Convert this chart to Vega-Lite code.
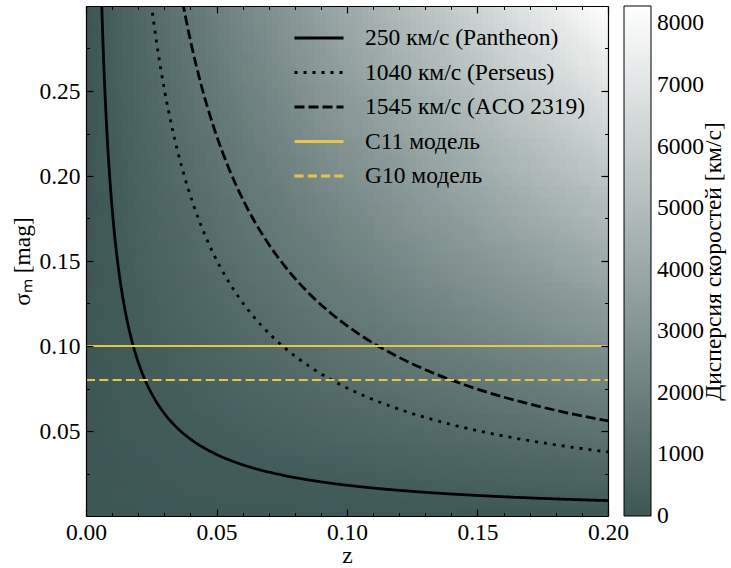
{
  "$schema": "https://vega.github.io/schema/vega-lite/v6.json",
  "width": 522,
  "height": 510,
  "autosize": {"type": "none"},
  "padding": {"left": 86, "top": 6, "right": 123, "bottom": 52},
  "background": "#ffffff",
  "config": {
    "font": "Times New Roman, Liberation Serif, serif",
    "view": {"stroke": null},
    "text": {"font": "Times New Roman, Liberation Serif, serif"},
    "style": {"guide-label": {"font": "Times New Roman, Liberation Serif, serif"}, "guide-title": {"font": "Times New Roman, Liberation Serif, serif"}},
    "axis": {"grid": false, "domain": false, "labelFlush": false, "labelFont": "Times New Roman, Liberation Serif, serif", "labelFontSize": 23.5, "labelColor": "#000000", "titleFont": "Times New Roman, Liberation Serif, serif", "titleFontSize": 23.5, "titleColor": "#000000", "titleFontWeight": "normal", "tickColor": "#000000", "domainColor": "#000000"},
    "legend": {"labelFont": "Times New Roman, Liberation Serif, serif", "titleFont": "Times New Roman, Liberation Serif, serif"}
  },
  "resolve": {"scale": {"color": "independent", "opacity": "independent", "strokeDash": "independent"}, "axis": {"x": "independent", "y": "independent"}},
  "layer": [
    {
      "data": {"values": [{"z0": 0, "z1": 0.2, "s0": 0, "s1": 0.3, "v": 0}]},
      "mark": {"type": "rect", "strokeWidth": 0},
      "encoding": {
        "x": {"field": "z0", "type": "quantitative", "scale": {"domain": [0, 0.2], "nice": false, "zero": false},
          "axis": {"orient": "bottom", "values": [0, 0.05, 0.1, 0.15, 0.2], "format": ".2f", "labelFont": "Times New Roman, Liberation Serif, serif", "labelFontSize": 23.5, "labelFlush": false, "tickSize": -7, "tickWidth": 1.2, "labelPadding": 11, "domain": true, "domainWidth": 1.2, "title": "z", "titleFont": "Times New Roman, Liberation Serif, serif", "titlePadding": 0, "zindex": 1}},
        "x2": {"field": "z1"},
        "y": {"field": "s0", "type": "quantitative", "scale": {"domain": [0, 0.3], "nice": false, "zero": false},
          "axis": {"orient": "left", "values": [0.05, 0.1, 0.15, 0.2, 0.25], "format": ".2f", "labelFont": "Times New Roman, Liberation Serif, serif", "labelFontSize": 23.5, "labelFlush": false, "tickSize": -7, "tickWidth": 1.2, "labelPadding": 13, "domain": true, "domainWidth": 1.2, "title": "σₘ [mag]", "titleFont": "Times New Roman, Liberation Serif, serif", "titlePadding": 4, "zindex": 1}},
        "y2": {"field": "s1"},
        "color": {"field": "v", "type": "quantitative",
          "scale": {"domain": [-0.5, 8283.6], "range": ["#3d5755", "#ffffff"], "interpolate": "rgb"},
          "legend": {"orient": "none", "legendX": 538, "legendY": 0, "direction": "vertical", "gradientLength": 510, "gradientThickness": 27, "gradientStrokeColor": "#000000", "gradientStrokeWidth": 1, "values": [0, 1000, 2000, 3000, 4000, 5000, 6000, 7000, 8000], "format": "d", "title": null, "labelOffset": 6, "labelFont": "Times New Roman, Liberation Serif, serif", "labelFontSize": 23.5, "labelColor": "#000000", "padding": 0, "labelOverlap": false}}
      }
    },
    {
      "data": {"values": [
        {"z0":0,"z1":0.0022989},{"z0":0.0022989,"z1":0.0045977},{"z0":0.0045977,"z1":0.0068966},{"z0":0.0068966,"z1":0.0091954},{"z0":0.0091954,"z1":0.0114943},{"z0":0.0114943,"z1":0.0137931},{"z0":0.0137931,"z1":0.016092},{"z0":0.016092,"z1":0.0183908},{"z0":0.0183908,"z1":0.0206897},{"z0":0.0206897,"z1":0.0229885},
        {"z0":0.0229885,"z1":0.0252874},{"z0":0.0252874,"z1":0.0275862},{"z0":0.0275862,"z1":0.0298851},{"z0":0.0298851,"z1":0.0321839},{"z0":0.0321839,"z1":0.0344828},{"z0":0.0344828,"z1":0.0367816},{"z0":0.0367816,"z1":0.0390805},{"z0":0.0390805,"z1":0.0413793},{"z0":0.0413793,"z1":0.0436782},{"z0":0.0436782,"z1":0.045977},
        {"z0":0.045977,"z1":0.0482759},{"z0":0.0482759,"z1":0.0505747},{"z0":0.0505747,"z1":0.0528736},{"z0":0.0528736,"z1":0.0551724},{"z0":0.0551724,"z1":0.0574713},{"z0":0.0574713,"z1":0.0597701},{"z0":0.0597701,"z1":0.062069},{"z0":0.062069,"z1":0.0643678},{"z0":0.0643678,"z1":0.0666667},{"z0":0.0666667,"z1":0.0689655},
        {"z0":0.0689655,"z1":0.0712644},{"z0":0.0712644,"z1":0.0735632},{"z0":0.0735632,"z1":0.0758621},{"z0":0.0758621,"z1":0.0781609},{"z0":0.0781609,"z1":0.0804598},{"z0":0.0804598,"z1":0.0827586},{"z0":0.0827586,"z1":0.0850575},{"z0":0.0850575,"z1":0.0873563},{"z0":0.0873563,"z1":0.0896552},{"z0":0.0896552,"z1":0.091954},
        {"z0":0.091954,"z1":0.0942529},{"z0":0.0942529,"z1":0.0965517},{"z0":0.0965517,"z1":0.0988506},{"z0":0.0988506,"z1":0.1011494},{"z0":0.1011494,"z1":0.1034483},{"z0":0.1034483,"z1":0.1057471},{"z0":0.1057471,"z1":0.108046},{"z0":0.108046,"z1":0.1103448},{"z0":0.1103448,"z1":0.1126437},{"z0":0.1126437,"z1":0.1149425},
        {"z0":0.1149425,"z1":0.1172414},{"z0":0.1172414,"z1":0.1195402},{"z0":0.1195402,"z1":0.1218391},{"z0":0.1218391,"z1":0.1241379},{"z0":0.1241379,"z1":0.1264368},{"z0":0.1264368,"z1":0.1287356},{"z0":0.1287356,"z1":0.1310345},{"z0":0.1310345,"z1":0.1333333},{"z0":0.1333333,"z1":0.1356322},{"z0":0.1356322,"z1":0.137931},
        {"z0":0.137931,"z1":0.1402299},{"z0":0.1402299,"z1":0.1425287},{"z0":0.1425287,"z1":0.1448276},{"z0":0.1448276,"z1":0.1471264},{"z0":0.1471264,"z1":0.1494253},{"z0":0.1494253,"z1":0.1517241},{"z0":0.1517241,"z1":0.154023},{"z0":0.154023,"z1":0.1563218},{"z0":0.1563218,"z1":0.1586207},{"z0":0.1586207,"z1":0.1609195},
        {"z0":0.1609195,"z1":0.1632184},{"z0":0.1632184,"z1":0.1655172},{"z0":0.1655172,"z1":0.1678161},{"z0":0.1678161,"z1":0.1701149},{"z0":0.1701149,"z1":0.1724138},{"z0":0.1724138,"z1":0.1747126},{"z0":0.1747126,"z1":0.1770115},{"z0":0.1770115,"z1":0.1793103},{"z0":0.1793103,"z1":0.1816092},{"z0":0.1816092,"z1":0.183908},
        {"z0":0.183908,"z1":0.1862069},{"z0":0.1862069,"z1":0.1885057},{"z0":0.1885057,"z1":0.1908046},{"z0":0.1908046,"z1":0.1931034},{"z0":0.1931034,"z1":0.1954023},{"z0":0.1954023,"z1":0.1977011},{"z0":0.1977011,"z1":0.2}
      ]},
      "mark": {"type": "rect", "color": "#ffffff", "strokeWidth": 0},
      "encoding": {
        "x": {"field": "z0", "type": "quantitative", "scale": {"domain": [0, 0.2], "nice": false, "zero": false},
          "axis": {"orient": "bottom", "values": [0.01, 0.02, 0.03, 0.04, 0.06, 0.07, 0.08, 0.09, 0.11, 0.12, 0.13, 0.14, 0.16, 0.17, 0.18, 0.19], "labels": false, "tickSize": -3.5, "tickWidth": 1, "domain": false, "title": null, "zindex": 1}},
        "x2": {"field": "z1"},
        "y": {"datum": 0, "type": "quantitative", "scale": {"domain": [0, 0.3], "nice": false, "zero": false},
          "axis": {"orient": "left", "values": [0.025, 0.075, 0.125, 0.175, 0.225, 0.275], "labels": false, "tickSize": -3.5, "tickWidth": 1, "domain": false, "title": null, "zindex": 1}},
        "y2": {"datum": 0.3},
        "opacity": {"field": "z1", "type": "quantitative", "scale": {"domain": [0.0011494, 0.2011494], "range": [0, 1]}, "legend": null}
      }
    },
    {
      "data": {"values": [
        {"s0":0,"s1":0.0035294},{"s0":0.0035294,"s1":0.0070588},{"s0":0.0070588,"s1":0.0105882},{"s0":0.0105882,"s1":0.0141176},{"s0":0.0141176,"s1":0.0176471},{"s0":0.0176471,"s1":0.0211765},{"s0":0.0211765,"s1":0.0247059},{"s0":0.0247059,"s1":0.0282353},{"s0":0.0282353,"s1":0.0317647},{"s0":0.0317647,"s1":0.0352941},
        {"s0":0.0352941,"s1":0.0388235},{"s0":0.0388235,"s1":0.0423529},{"s0":0.0423529,"s1":0.0458824},{"s0":0.0458824,"s1":0.0494118},{"s0":0.0494118,"s1":0.0529412},{"s0":0.0529412,"s1":0.0564706},{"s0":0.0564706,"s1":0.06},{"s0":0.06,"s1":0.0635294},{"s0":0.0635294,"s1":0.0670588},{"s0":0.0670588,"s1":0.0705882},
        {"s0":0.0705882,"s1":0.0741176},{"s0":0.0741176,"s1":0.0776471},{"s0":0.0776471,"s1":0.0811765},{"s0":0.0811765,"s1":0.0847059},{"s0":0.0847059,"s1":0.0882353},{"s0":0.0882353,"s1":0.0917647},{"s0":0.0917647,"s1":0.0952941},{"s0":0.0952941,"s1":0.0988235},{"s0":0.0988235,"s1":0.1023529},{"s0":0.1023529,"s1":0.1058824},
        {"s0":0.1058824,"s1":0.1094118},{"s0":0.1094118,"s1":0.1129412},{"s0":0.1129412,"s1":0.1164706},{"s0":0.1164706,"s1":0.12},{"s0":0.12,"s1":0.1235294},{"s0":0.1235294,"s1":0.1270588},{"s0":0.1270588,"s1":0.1305882},{"s0":0.1305882,"s1":0.1341176},{"s0":0.1341176,"s1":0.1376471},{"s0":0.1376471,"s1":0.1411765},
        {"s0":0.1411765,"s1":0.1447059},{"s0":0.1447059,"s1":0.1482353},{"s0":0.1482353,"s1":0.1517647},{"s0":0.1517647,"s1":0.1552941},{"s0":0.1552941,"s1":0.1588235},{"s0":0.1588235,"s1":0.1623529},{"s0":0.1623529,"s1":0.1658824},{"s0":0.1658824,"s1":0.1694118},{"s0":0.1694118,"s1":0.1729412},{"s0":0.1729412,"s1":0.1764706},
        {"s0":0.1764706,"s1":0.18},{"s0":0.18,"s1":0.1835294},{"s0":0.1835294,"s1":0.1870588},{"s0":0.1870588,"s1":0.1905882},{"s0":0.1905882,"s1":0.1941176},{"s0":0.1941176,"s1":0.1976471},{"s0":0.1976471,"s1":0.2011765},{"s0":0.2011765,"s1":0.2047059},{"s0":0.2047059,"s1":0.2082353},{"s0":0.2082353,"s1":0.2117647},
        {"s0":0.2117647,"s1":0.2152941},{"s0":0.2152941,"s1":0.2188235},{"s0":0.2188235,"s1":0.2223529},{"s0":0.2223529,"s1":0.2258824},{"s0":0.2258824,"s1":0.2294118},{"s0":0.2294118,"s1":0.2329412},{"s0":0.2329412,"s1":0.2364706},{"s0":0.2364706,"s1":0.24},{"s0":0.24,"s1":0.2435294},{"s0":0.2435294,"s1":0.2470588},
        {"s0":0.2470588,"s1":0.2505882},{"s0":0.2505882,"s1":0.2541176},{"s0":0.2541176,"s1":0.2576471},{"s0":0.2576471,"s1":0.2611765},{"s0":0.2611765,"s1":0.2647059},{"s0":0.2647059,"s1":0.2682353},{"s0":0.2682353,"s1":0.2717647},{"s0":0.2717647,"s1":0.2752941},{"s0":0.2752941,"s1":0.2788235},{"s0":0.2788235,"s1":0.2823529},
        {"s0":0.2823529,"s1":0.2858824},{"s0":0.2858824,"s1":0.2894118},{"s0":0.2894118,"s1":0.2929412},{"s0":0.2929412,"s1":0.2964706},{"s0":0.2964706,"s1":0.3}
      ]},
      "mark": {"type": "rect", "color": "#3d5755", "strokeWidth": 0},
      "encoding": {
        "x": {"datum": 0, "type": "quantitative", "scale": {"domain": [0, 0.2], "nice": false, "zero": false},
          "axis": {"orient": "top", "values": [0, 0.05, 0.1, 0.15, 0.2], "labels": false, "tickSize": -7, "tickWidth": 1.2, "domain": true, "domainWidth": 1.2, "title": null, "zindex": 1}},
        "x2": {"datum": 0.2},
        "y": {"field": "s0", "type": "quantitative", "scale": {"domain": [0, 0.3], "nice": false, "zero": false},
          "axis": {"orient": "right", "values": [0.05, 0.1, 0.15, 0.2, 0.25], "labels": false, "tickSize": -7, "tickWidth": 1.2, "domain": true, "domainWidth": 1.2, "title": "Дисперсия скоростей [км/с]", "titleFont": "Times New Roman, Liberation Serif, serif", "titleAngle": -90, "titlePadding": 117, "zindex": 1}},
        "y2": {"field": "s1"},
        "opacity": {"field": "s1", "type": "quantitative", "scale": {"domain": [0.0017647, 0.3017647], "range": [1, 0]}, "legend": null}
      }
    },
    {
      "data": {"values": [
        {"label":"250 км/с (Pantheon)","z":0.006,"s":0.3018},{"label":"250 км/с (Pantheon)","z":0.0065,"s":0.27859},{"label":"250 км/с (Pantheon)","z":0.007,"s":0.25869},{"label":"250 км/с (Pantheon)","z":0.008,"s":0.22635},{"label":"250 км/с (Pantheon)","z":0.009,"s":0.2012},{"label":"250 км/с (Pantheon)","z":0.01,"s":0.18108},{"label":"250 км/с (Pantheon)","z":0.0115,"s":0.15746},{"label":"250 км/с (Pantheon)","z":0.013,"s":0.13929},{"label":"250 км/с (Pantheon)","z":0.015,"s":0.12072},{"label":"250 км/с (Pantheon)","z":0.0175,"s":0.10347},{"label":"250 км/с (Pantheon)","z":0.02,"s":0.09054},{"label":"250 км/с (Pantheon)","z":0.023,"s":0.07873},{"label":"250 км/с (Pantheon)","z":0.0265,"s":0.06833},{"label":"250 км/с (Pantheon)","z":0.03,"s":0.06036},{"label":"250 км/с (Pantheon)","z":0.035,"s":0.05174},{"label":"250 км/с (Pantheon)","z":0.04,"s":0.04527},{"label":"250 км/с (Pantheon)","z":0.05,"s":0.03622},{"label":"250 км/с (Pantheon)","z":0.06,"s":0.03018},{"label":"250 км/с (Pantheon)","z":0.075,"s":0.02414},{"label":"250 км/с (Pantheon)","z":0.09,"s":0.02012},{"label":"250 км/с (Pantheon)","z":0.11,"s":0.01646},{"label":"250 км/с (Pantheon)","z":0.13,"s":0.01393},{"label":"250 км/с (Pantheon)","z":0.155,"s":0.01168},{"label":"250 км/с (Pantheon)","z":0.18,"s":0.01006},{"label":"250 км/с (Pantheon)","z":0.2,"s":0.00905},
        {"label":"1040 км/с (Perseus)","z":0.025,"s":0.30132},{"label":"1040 км/с (Perseus)","z":0.027,"s":0.279},{"label":"1040 км/с (Perseus)","z":0.03,"s":0.2511},{"label":"1040 км/с (Perseus)","z":0.033,"s":0.22827},{"label":"1040 км/с (Perseus)","z":0.037,"s":0.20359},{"label":"1040 км/с (Perseus)","z":0.041,"s":0.18373},{"label":"1040 км/с (Perseus)","z":0.046,"s":0.16376},{"label":"1040 км/с (Perseus)","z":0.052,"s":0.14487},{"label":"1040 км/с (Perseus)","z":0.059,"s":0.12768},{"label":"1040 км/с (Perseus)","z":0.067,"s":0.11243},{"label":"1040 км/с (Perseus)","z":0.076,"s":0.09912},{"label":"1040 км/с (Perseus)","z":0.086,"s":0.08759},{"label":"1040 км/с (Perseus)","z":0.097,"s":0.07766},{"label":"1040 км/с (Perseus)","z":0.11,"s":0.06848},{"label":"1040 км/с (Perseus)","z":0.125,"s":0.06026},{"label":"1040 км/с (Perseus)","z":0.14,"s":0.05381},{"label":"1040 км/с (Perseus)","z":0.16,"s":0.04708},{"label":"1040 км/с (Perseus)","z":0.18,"s":0.04185},{"label":"1040 км/с (Perseus)","z":0.2,"s":0.03766},
        {"label":"1545 км/с (ACO 2319)","z":0.037,"s":0.30245},{"label":"1545 км/с (ACO 2319)","z":0.04,"s":0.27977},{"label":"1545 км/с (ACO 2319)","z":0.044,"s":0.25434},{"label":"1545 км/с (ACO 2319)","z":0.049,"s":0.22838},{"label":"1545 км/с (ACO 2319)","z":0.055,"s":0.20347},{"label":"1545 км/с (ACO 2319)","z":0.061,"s":0.18346},{"label":"1545 км/с (ACO 2319)","z":0.068,"s":0.16457},{"label":"1545 км/с (ACO 2319)","z":0.076,"s":0.14725},{"label":"1545 км/с (ACO 2319)","z":0.085,"s":0.13166},{"label":"1545 км/с (ACO 2319)","z":0.095,"s":0.1178},{"label":"1545 км/с (ACO 2319)","z":0.106,"s":0.10557},{"label":"1545 км/с (ACO 2319)","z":0.118,"s":0.09484},{"label":"1545 км/с (ACO 2319)","z":0.131,"s":0.08543},{"label":"1545 км/с (ACO 2319)","z":0.145,"s":0.07718},{"label":"1545 км/с (ACO 2319)","z":0.16,"s":0.06994},{"label":"1545 км/с (ACO 2319)","z":0.18,"s":0.06217},{"label":"1545 км/с (ACO 2319)","z":0.2,"s":0.05595},
        {"label":"C11 модель","z":0,"s":0.1},{"label":"C11 модель","z":0.2,"s":0.1},
        {"label":"G10 модель","z":0,"s":0.08},{"label":"G10 модель","z":0.2,"s":0.08}
      ]},
      "mark": {"type": "line", "clip": true, "interpolate": "monotone"},
      "encoding": {
        "x": {"field": "z", "type": "quantitative", "scale": {"domain": [0, 0.2], "nice": false, "zero": false},
          "axis": {"orient": "top", "values": [0.01, 0.02, 0.03, 0.04, 0.06, 0.07, 0.08, 0.09, 0.11, 0.12, 0.13, 0.14, 0.16, 0.17, 0.18, 0.19], "labels": false, "tickSize": -3.5, "tickWidth": 1, "domain": false, "title": null, "zindex": 1}},
        "y": {"field": "s", "type": "quantitative", "scale": {"domain": [0, 0.3], "nice": false, "zero": false},
          "axis": {"orient": "right", "values": [0.025, 0.075, 0.125, 0.175, 0.225, 0.275], "labels": false, "tickSize": -3.5, "tickWidth": 1, "domain": false, "title": null, "zindex": 1}},
        "color": {"field": "label", "type": "nominal",
          "scale": {"domain": ["250 км/с (Pantheon)", "1040 км/с (Perseus)", "1545 км/с (ACO 2319)", "C11 модель", "G10 модель"], "range": ["#000000", "#000000", "#000000", "#e9c44a", "#e9c44a"]},
          "legend": {"orient": "none", "legendX": 216, "legendY": 15, "title": null, "symbolType": "M-1.58,0L1.58,0", "symbolSize": 961, "symbolStrokeWidth": 2.8, "labelFont": "Times New Roman, Liberation Serif, serif", "labelFontSize": 23.5, "labelColor": "#000000", "labelOffset": 29, "rowPadding": 5.5, "padding": 0, "labelLimit": 400}},
        "strokeDash": {"field": "label", "type": "nominal",
          "scale": {"domain": ["250 км/с (Pantheon)", "1040 км/с (Perseus)", "1545 км/с (ACO 2319)", "C11 модель", "G10 модель"], "range": [[1, 0], [3, 6], [10, 4], [1, 0], [9, 4.3]]},
          "legend": {"orient": "none", "legendX": 216, "legendY": 15, "title": null, "symbolType": "M-1.58,0L1.58,0", "symbolSize": 961, "symbolStrokeWidth": 2.8, "labelFont": "Times New Roman, Liberation Serif, serif", "labelFontSize": 23.5, "labelColor": "#000000", "labelOffset": 29, "rowPadding": 5.5, "padding": 0, "labelLimit": 400}},
        "strokeWidth": {"condition": {"test": "indexof(datum.label, 'модель') >= 0", "value": 2.2}, "value": 2.8}
      }
    }
  ]
}
